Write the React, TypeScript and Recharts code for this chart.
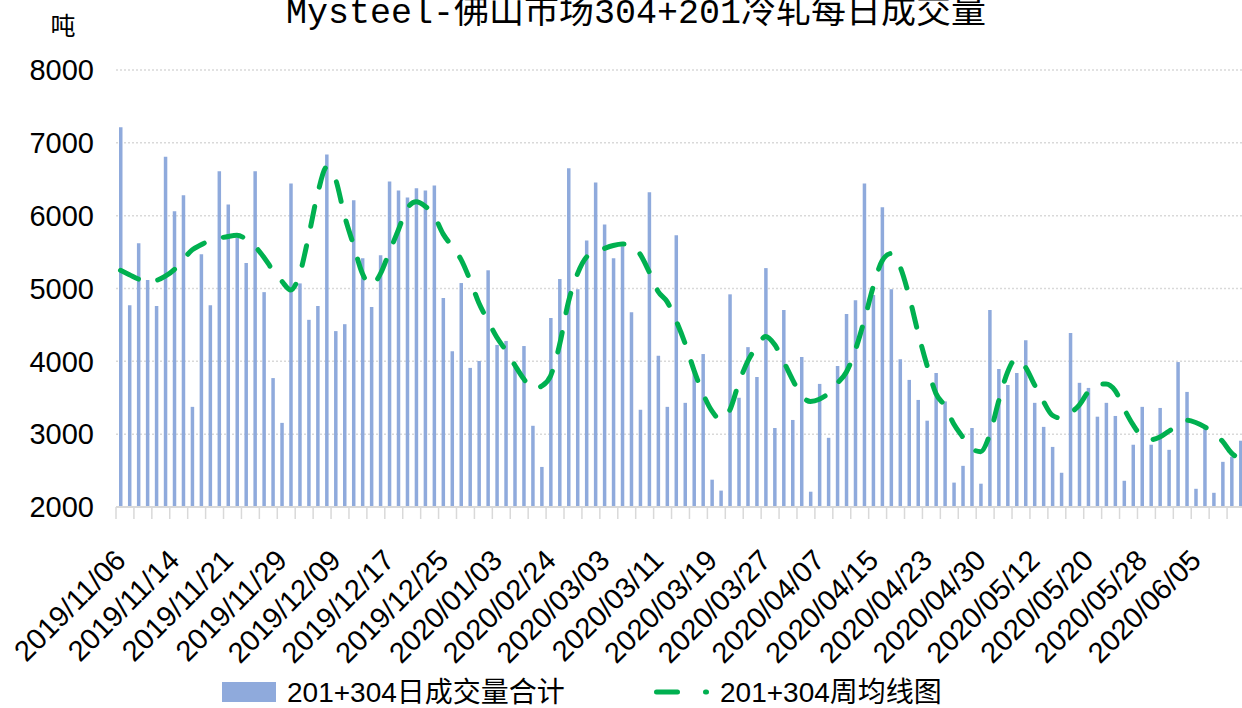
import { ComposedChart, Bar, Line, XAxis, YAxis, CartesianGrid } from 'recharts';

const dateLabels = [
  '2019/11/06', '2019/11/14', '2019/11/21', '2019/11/29', '2019/12/09', '2019/12/17',
  '2019/12/25', '2020/01/03', '2020/02/24', '2020/03/03', '2020/03/11', '2020/03/19',
  '2020/03/27', '2020/04/07', '2020/04/15', '2020/04/23', '2020/04/30', '2020/05/12',
  '2020/05/20', '2020/05/28', '2020/06/05',
];

// 201+304 daily volume (tons)
const dailyVolume = [
  7215, 4770, 5620, 5115, 4760, 6810, 6060, 6280, 3375, 5470,
  4770, 6610, 6155, 5700, 5350, 6610, 4950, 3770, 3155, 6440,
  5070, 4570, 4760, 6840, 4415, 4510, 6210, 5415, 4745, 5455,
  6470, 6345, 6250, 6375, 6345, 6415, 4870, 4140, 5075, 3910,
  4005, 5250, 4225, 4280, 3950, 4210, 3115, 2550, 4595, 5130,
  6650, 4990, 5660, 6455, 5880, 5415, 5580, 4675, 3335, 6320,
  4075, 3375, 5730, 3430, 3900, 4100, 2375, 2225, 4920, 3500,
  4195, 3785, 5280, 3085, 4705, 3195, 4060, 2210, 3690, 2950,
  3935, 4650, 4840, 6440, 4910, 6115, 4990, 4030, 3745, 3470,
  3185, 3840, 3450, 2335, 2565, 3085, 2320, 4705, 3895, 3675,
  3840, 4290, 3430, 3100, 2825, 2470, 4390, 3705, 3635, 3240,
  3430, 3250, 2360, 2855, 3375, 2855, 3360, 2785, 3990, 3580,
  2250, 3085, 2195, 2620, 2690, 2910,
];

// weekly average line
const weeklyAvg = [
  5250, 5190, 5130, 5090, 5110, 5170, 5260, 5400, 5530, 5600,
  5660, 5690, 5715, 5730, 5680, 5580, 5430, 5250, 5100, 4980,
  5200, 5720, 6300, 6665, 6500, 6000, 5600, 5205, 5045, 5200,
  5500, 5800, 6100, 6190, 6130, 6000, 5750, 5580, 5400, 5120,
  4800, 4560, 4330, 4150, 3950, 3760, 3620, 3660, 3800, 4225,
  4820, 5200, 5430, 5500, 5550, 5590, 5610, 5600, 5470, 5230,
  4960, 4820, 4560, 4250, 3880, 3560, 3320, 3200, 3330, 3700,
  4000, 4200, 4340, 4230, 4000, 3750, 3530, 3450, 3480, 3560,
  3700, 3850, 4150, 4560, 5020, 5380, 5480, 5300, 4900, 4400,
  3950, 3560, 3390, 3140, 2960, 2800, 2760, 2990, 3450, 3850,
  4040, 3920, 3680, 3450, 3260, 3220, 3290, 3400, 3580, 3680,
  3690, 3600, 3350, 3130, 2970, 2925, 2960, 3040, 3120, 3190,
  3160, 3100, 3020, 2900, 2740, 2660,
];

const yTicks = [2000, 3000, 4000, 5000, 6000, 7000, 8000];

const barName = '201+304日成交量合计';
const lineName = '201+304周均线图';
const title = 'Mysteel-佛山市场304+201冷轧每日成交量';

const data = dailyVolume.map((v, i) => ({
  date: i % 6 === 0 ? dateLabels[i / 6] ?? '' : '',
  volume: v,
  avg: weeklyAvg[i],
}));

const CHART_W = 1250;
const LEFT = 116;
const RIGHT = 5;
const BAND = (CHART_W - LEFT - RIGHT) / data.length;

const BLUE = '#8FAADC';
const GREEN = '#00B050';
const GRID = '#d9d9d9';
const NUM_FONT = '"Liberation Sans", "Noto Sans CJK SC", sans-serif';

const DateTick = (props: any) => {
  const { x, y, payload, index } = props;
  const ax = x + 7;
  const ay = y + 55;
  return (
    <g>
      {index % 2 === 0 && (
        <line x1={x - BAND / 2} x2={x - BAND / 2} y1={y} y2={y + 12} stroke={GRID} strokeWidth={1.5} />
      )}
      {payload.value ? (
        <text
          x={ax}
          y={ay}
          transform={`rotate(-45 ${ax} ${ay})`}
          textAnchor="end"
          fontSize={29}
          fontFamily={NUM_FONT}
          fill="#000"
        >
          {payload.value}
        </text>
      ) : null}
    </g>
  );
};

export default function App() {
  return (
    <div
      style={{
        position: 'absolute',
        left: 0,
        top: 0,
        width: 1242,
        height: 708,
        overflow: 'hidden',
        background: '#fff',
      }}
    >
      <ComposedChart
        width={CHART_W}
        height={708}
        data={data}
        margin={{ top: 70, right: RIGHT, bottom: 0, left: 0 }}
        barCategoryGap={0}
      >
        <CartesianGrid vertical={false} stroke={GRID} strokeDasharray="2 2" strokeWidth={1.5} />
        <XAxis
          dataKey="date"
          interval={0}
          height={201}
          tickLine={false}
          tickSize={0}
          tickMargin={0}
          axisLine={{ stroke: GRID, strokeWidth: 2 }}
          tick={DateTick}
        />
        <YAxis
          domain={[2000, 8000]}
          ticks={yTicks}
          width={LEFT}
          axisLine={false}
          tickLine={false}
          tickSize={0}
          tickMargin={22}
          tick={{ fontSize: 29, fill: '#000', fontFamily: NUM_FONT }}
        />
        <Bar dataKey="volume" name={barName} fill={BLUE} barSize={3.5} isAnimationActive={false} />
        <Line
          dataKey="avg"
          name={lineName}
          type="monotone"
          stroke={GREEN}
          strokeWidth={5}
          strokeDasharray="20 20"
          strokeLinecap="round"
          dot={false}
          activeDot={false}
          isAnimationActive={false}
        />
      </ComposedChart>
      <svg
        width={1242}
        height={708}
        style={{ position: 'absolute', left: 0, top: 0, pointerEvents: 'none' }}
      >
        <text
          x={636}
          y={23}
          textAnchor="middle"
          fontSize={35}
          fontFamily='"Liberation Mono", "Noto Sans CJK SC", monospace'
          fill="#000"
        >
          {title}
        </text>
        <text x={63} y={35} textAnchor="middle" fontSize={25} fontFamily='"Noto Sans CJK SC", serif' fill="#000">
          吨
        </text>
        <rect x={222} y={682} width={54} height={20} fill={BLUE} />
        <text x={287} y={702} fontSize={28} fontFamily={NUM_FONT} fill="#000">
          {barName}
        </text>
        <line
          x1={656.5}
          x2={706.5}
          y1={692}
          y2={692}
          stroke={GREEN}
          strokeWidth={5}
          strokeDasharray="21 28"
          strokeLinecap="round"
        />
        <text x={720} y={702} fontSize={28} fontFamily={NUM_FONT} fill="#000">
          {lineName}
        </text>
      </svg>
    </div>
  );
}
